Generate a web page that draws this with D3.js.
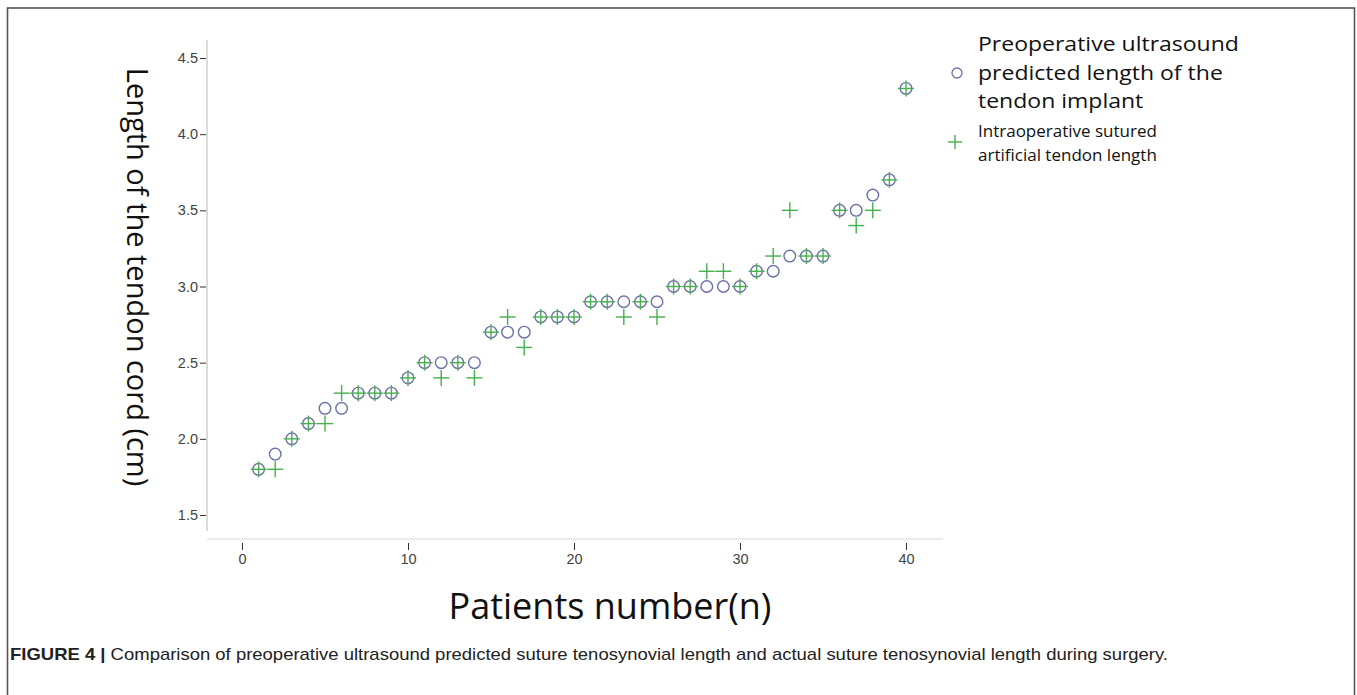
<!DOCTYPE html>
<html><head><meta charset="utf-8">
<script src="https://cdn.jsdelivr.net/npm/d3@7"></script>
<style>body{margin:0;background:#fff}svg{display:block}</style>
</head><body>
<svg id="c" width="1357" height="695"></svg>
<script>
const patients = d3.range(1, 41);
const predicted = [1.8,1.9,2.0,2.1,2.2,2.2,2.3,2.3,2.3,2.4,2.5,2.5,2.5,2.5,2.7,2.7,2.7,2.8,2.8,2.8,2.9,2.9,2.9,2.9,2.9,3.0,3.0,3.0,3.0,3.0,3.1,3.1,3.2,3.2,3.2,3.5,3.5,3.6,3.7,4.3];
const actual    = [1.8,1.8,2.0,2.1,2.1,2.3,2.3,2.3,2.3,2.4,2.5,2.4,2.5,2.4,2.7,2.8,2.6,2.8,2.8,2.8,2.9,2.9,2.8,2.9,2.8,3.0,3.0,3.1,3.1,3.0,3.1,3.2,3.5,3.2,3.2,3.5,3.4,3.5,3.7,4.3];
const xTicks = [0,10,20,30,40];
const yTicks = [1.5,2.0,2.5,3.0,3.5,4.0,4.5];
const legendPred = ["Preoperative ultrasound","predicted length of the","tendon implant"];
const legendAct = ["Intraoperative sutured","artificial tendon length"];
const xTitle = "Patients number(n)";
const yTitle = "Length of the tendon cord (cm)";

const svg = d3.select("#c");
const circleColor = "#6d70a8", plusColor = "#45b04d";

// frame
svg.append("rect").attr("x",7.5).attr("y",8).attr("width",1347).attr("height",700)
  .attr("fill","none").attr("stroke","#555").attr("stroke-width",1.6);

const x = d3.scaleLinear().domain([0,40]).range([242,906]);
const y = d3.scaleLinear().domain([1.5,4.5]).range([515,58]);

// axis lines
svg.append("line").attr("x1",207).attr("x2",207).attr("y1",40).attr("y2",531).attr("stroke","#cfcfcf").attr("stroke-width",1.5);
svg.append("line").attr("x1",207).attr("x2",943).attr("y1",539).attr("y2",539).attr("stroke","#e6e6e6").attr("stroke-width",1.5);

// y axis
const yAxis = d3.axisLeft(y).tickValues(yTicks).tickFormat(d3.format(".1f")).tickSize(6).tickPadding(2);
const gy = svg.append("g").attr("transform","translate(206,0)").call(yAxis);
gy.select(".domain").remove();
gy.selectAll(".tick line").attr("stroke","#333");
gy.selectAll(".tick text").attr("fill","#444").style("font-family","'Liberation Sans', Arial, sans-serif").style("font-size","14.5px");

// x axis
const xAxis = d3.axisBottom(x).tickValues(xTicks).tickSize(7).tickPadding(4);
const gx = svg.append("g").attr("transform","translate(0,543)").call(xAxis);
gx.select(".domain").remove();
gx.selectAll(".tick line").attr("stroke","#333");
gx.selectAll(".tick text").attr("fill","#444").style("font-family","'Liberation Sans', Arial, sans-serif").style("font-size","14.5px");

// points
svg.append("g").selectAll("circle").data(patients).join("circle")
  .attr("cx",(d)=>x(d)).attr("cy",(d,i)=>y(predicted[i])).attr("r",5.8)
  .attr("fill","none").attr("stroke",circleColor).attr("stroke-width",1.4);
svg.append("g").selectAll("g").data(patients).join("g")
  .attr("transform",(d,i)=>`translate(${x(d)},${y(actual[i])})`)
  .each(function(){
    const g = d3.select(this);
    g.append("line").attr("x1",-8).attr("x2",8).attr("stroke",plusColor).attr("stroke-width",1.4);
    g.append("line").attr("y1",-8).attr("y2",8).attr("stroke",plusColor).attr("stroke-width",1.4);
  });

// titles
svg.append("text").attr("x",610).attr("y",619).attr("text-anchor","middle")
  .style("font-family","'Open Sans', 'Noto Sans', sans-serif").style("font-size","36px").attr("fill","#111").text(xTitle);
svg.append("text").attr("transform","translate(127,277) rotate(90)").attr("text-anchor","middle")
  .style("font-family","'Open Sans', 'Noto Sans', sans-serif").style("font-size","29px").attr("fill","#111").text(yTitle);

// legend
svg.append("circle").attr("cx",957).attr("cy",73).attr("r",5).attr("fill","none").attr("stroke",circleColor).attr("stroke-width",1.3);
svg.append("g").selectAll("text").data(legendPred).join("text")
  .attr("x",978).attr("y",(d,i)=>51+i*28.5)
  .style("font-family","'Open Sans', 'Noto Sans', sans-serif").style("font-size","20.5px").attr("fill","#111").text(d=>d)
  .each(function(){
    const w = this.getComputedTextLength();
    d3.select(this).attr("textLength", w*23/20.5).attr("lengthAdjust","spacingAndGlyphs");
  });
const lg = svg.append("g").attr("transform","translate(955,142)");
lg.append("line").attr("x1",-7).attr("x2",7).attr("stroke",plusColor).attr("stroke-width",1.4);
lg.append("line").attr("y1",-7).attr("y2",7).attr("stroke",plusColor).attr("stroke-width",1.4);
svg.append("g").selectAll("text").data(legendAct).join("text")
  .attr("x",978).attr("y",(d,i)=>137+i*24)
  .style("font-family","'Open Sans', 'Noto Sans', sans-serif").style("font-size","17px").attr("fill","#111").text(d=>d);

// caption
const cap = svg.append("text").attr("x",10).attr("y",660)
  .attr("textLength",1158).attr("lengthAdjust","spacingAndGlyphs")
  .style("font-family","'Liberation Sans', Arial, sans-serif").style("font-size","17px").attr("fill","#222");
cap.append("tspan").style("font-weight","bold").text("FIGURE 4 | ");
cap.append("tspan").text("Comparison of preoperative ultrasound predicted suture tenosynovial length and actual suture tenosynovial length during surgery.");
</script>
</body></html>
